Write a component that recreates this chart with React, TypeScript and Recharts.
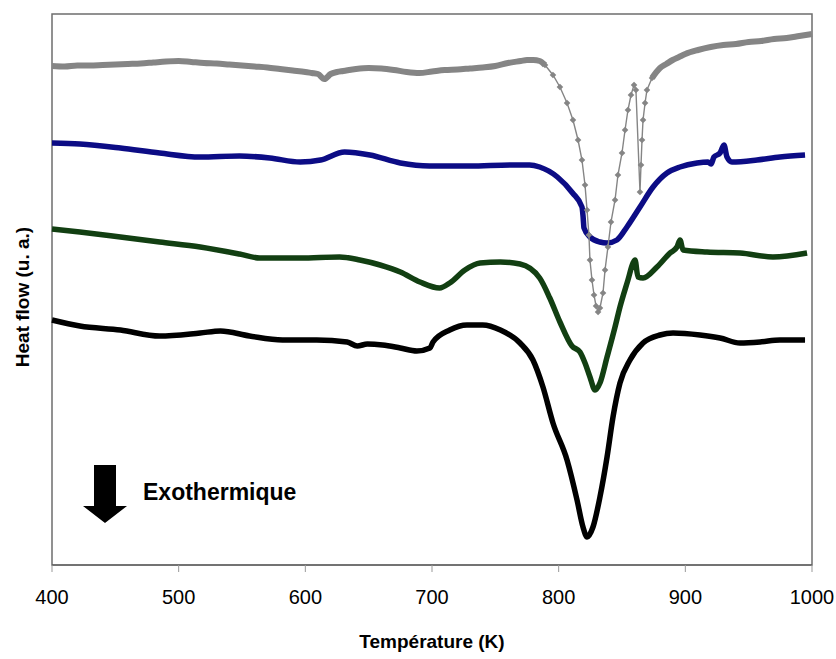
import React from 'react'
import { LineChart, Line, XAxis, YAxis, ReferenceArea } from 'recharts'

// DSC curves, heat flow in arbitrary units (u. a.)
// each point: [temperature K, heat flow]

// gray curve: flat part before the peak (markers so dense it reads as a band)
const grayBefore: [number, number][] = [
  [400, 499], [410, 498.5], [420, 499.5], [430, 499.5], [440, 500], [450, 500.5], [460, 501],
  [470, 501.5], [480, 502.5], [490, 503.5], [500, 504], [510, 503], [520, 502], [530, 501.5],
  [540, 500.5], [550, 499.5], [560, 498.5], [570, 497.5], [580, 496], [590, 494.5], [600, 493],
  [605, 492], [610, 491], [615, 486], [620, 491], [625, 493], [630, 494], [640, 496], [650, 497],
  [660, 496.5], [670, 495], [680, 493], [690, 492], [700, 493.5], [710, 495], [720, 495.5],
  [730, 496.5], [740, 497.5], [750, 499], [760, 502], [770, 504], [775, 505], [780, 505],
  [785, 504], [789.2, 500]
]

// gray curve: the sharp peak, where single markers can be seen
const grayPeak: [number, number][] = [
  [789.2, 500], [795.5, 490], [801, 478], [806.6, 462], [811.3, 445], [815.3, 425], [818.4, 405],
  [820.8, 380], [822.4, 355], [823.9, 330], [824.7, 305], [826.3, 285], [827.9, 270], [829.5, 259],
  [831.1, 253], [832.6, 257], [835, 272], [836.6, 295], [838.9, 318], [841.3, 343], [844.5, 365],
  [846.8, 390], [850, 412], [852.4, 435], [854.7, 455], [857.1, 470], [859.5, 480], [861, 475],
  [864.2, 373], [865, 400], [865.8, 425], [866.6, 445], [868.2, 462], [869.7, 475], [873.7, 487]
]

// gray curve: flat part after the peak
const grayAfter: [number, number][] = [
  [873.7, 487], [880, 497], [885, 501], [890, 505], [895, 508], [900, 511], [910, 515],
  [920, 518], [930, 520], [940, 521], [950, 523], [960, 524], [970, 526], [980, 527],
  [990, 529], [1000, 531]
]

const bluePoints: [number, number][] = [
  [400, 422], [422, 421], [454, 417], [485, 412], [517, 408], [548, 409], [572, 407], [596, 403],
  [612, 405], [631, 413], [651, 410], [675, 402], [698, 399], [730, 399], [762, 400], [777, 400],
  [785, 398], [799, 388], [811, 372], [818.4, 358], [819.3, 348], [820, 337], [824.7, 328],
  [832.6, 323], [838.2, 322], [846, 325], [853.9, 338], [864.2, 358], [874.5, 378], [885.5, 392],
  [895.8, 398], [909.2, 402], [917.9, 403], [920.3, 401], [922.6, 408], [927.4, 412], [930.5, 420],
  [932.9, 408], [936.8, 403], [956.6, 405], [974.7, 408], [994.5, 410]
]

const greenPoints: [number, number][] = [
  [400, 336], [422, 333], [454, 328], [485, 323], [517, 318], [548, 311], [564, 307], [596, 307],
  [627, 308], [643, 305], [659, 300], [675, 293], [690.5, 283], [706, 277], [714, 282], [726, 295],
  [738, 302], [754, 303], [769.5, 301], [785, 287], [793, 267], [801, 243], [810.5, 219],
  [816.8, 213], [820.8, 202], [824.7, 188], [828.7, 175], [832.6, 182], [838.2, 208], [844.5, 238],
  [848.4, 258], [854.7, 285], [858.7, 302], [860.3, 305], [862.6, 288], [866.6, 287], [877.6, 298],
  [887.9, 312], [893.4, 318], [895.8, 325], [898.2, 315], [917.1, 313], [943.2, 312], [969.2, 308],
  [996.1, 312]
]

const blackPoints: [number, number][] = [
  [400, 245], [422, 239], [454, 235], [485, 229], [517, 232], [533, 234], [556, 229], [582, 225],
  [609, 225], [633, 223], [641, 219], [649, 221], [661, 220], [675, 217], [688, 214], [698.4, 217],
  [700.8, 223], [714, 235], [727.6, 240], [740, 240], [754, 235], [769.5, 222], [779.7, 205],
  [787.6, 178], [795.5, 142], [806.6, 105], [814.5, 65], [819.2, 38], [822.4, 28], [827.1, 38],
  [832.6, 68], [838.2, 108], [842.9, 148], [848.4, 182], [856.3, 205], [866.6, 222], [880, 230],
  [890.3, 232], [911.6, 230], [927.4, 227], [943.2, 222], [959, 223], [974.7, 225], [994.5, 225]
]

const xTicks = [400, 500, 600, 700, 800, 900, 1000]

const toRows = (pts: [number, number][]) => pts.map(([t, v]) => ({ t, v }))

const font = '"Liberation Sans", Arial, sans-serif'
const GRAY = '#858585'

const Diamond = (props: any) => {
  const { cx, cy, index } = props
  if (cx == null || cy == null) return <g key={index} />
  const r = 3.3
  return (
    <path
      key={index}
      d={`M${cx},${cy - r}L${cx + r},${cy}L${cx},${cy + r}L${cx - r},${cy}Z`}
      fill={GRAY}
    />
  )
}

export default function App() {
  return (
    <div
      style={{
        position: 'absolute',
        left: 0,
        top: 0,
        width: 836,
        height: 659,
        background: '#fff',
        fontFamily: font
      }}
    >
      <LineChart width={836} height={659} margin={{ top: 14, right: 24, left: 52, bottom: 44 }}>
        <XAxis
          type="number"
          dataKey="t"
          domain={[400, 1000]}
          ticks={xTicks}
          height={50}
          tickSize={7}
          tickMargin={18}
          axisLine={{ stroke: '#555' }}
          tickLine={{ stroke: '#999' }}
          tick={{ fill: '#000', fontSize: 20 }}
        />
        <YAxis type="number" dataKey="v" domain={[0, 551]} hide />
        <ReferenceArea x1={400} x2={1000} y1={0} y2={551} fill="none" stroke="#6e6e6e" strokeWidth={1.5} />
        <Line
          data={toRows(blackPoints)}
          dataKey="v"
          type="monotone"
          stroke="#000"
          strokeWidth={5.5}
          dot={false}
          isAnimationActive={false}
        />
        <Line
          data={toRows(greenPoints)}
          dataKey="v"
          type="monotone"
          stroke="#123f12"
          strokeWidth={5.5}
          dot={false}
          isAnimationActive={false}
        />
        <Line
          data={toRows(bluePoints)}
          dataKey="v"
          type="monotone"
          stroke="#0c0c85"
          strokeWidth={5.5}
          dot={false}
          isAnimationActive={false}
        />
        <Line
          data={toRows(grayBefore)}
          dataKey="v"
          type="monotone"
          stroke={GRAY}
          strokeWidth={6}
          dot={false}
          isAnimationActive={false}
        />
        <Line
          data={toRows(grayAfter)}
          dataKey="v"
          type="monotone"
          stroke={GRAY}
          strokeWidth={6}
          dot={false}
          isAnimationActive={false}
        />
        <Line
          data={toRows(grayPeak)}
          dataKey="v"
          type="linear"
          stroke={GRAY}
          strokeWidth={1.4}
          dot={Diamond}
          isAnimationActive={false}
        />
      </LineChart>
      <svg
        width={836}
        height={659}
        style={{ position: 'absolute', left: 0, top: 0, pointerEvents: 'none' }}
      >
        <text
          x={0}
          y={0}
          transform="translate(29,297) rotate(-90)"
          textAnchor="middle"
          fontSize={19}
          fontWeight="bold"
          fontFamily={font}
          fill="#000"
        >
          Heat flow (u. a.)
        </text>
        <text x={432} y={648} textAnchor="middle" fontSize={19} fontWeight="bold" fontFamily={font} fill="#000">
          Température (K)
        </text>
        <polygon points="94,465 116,465 116,506 127,506 105,523 83,506 94,506" fill="#000" />
        <text x={143} y={500} fontSize={23} fontWeight="bold" fontFamily={font} fill="#000">
          Exothermique
        </text>
      </svg>
    </div>
  )
}
